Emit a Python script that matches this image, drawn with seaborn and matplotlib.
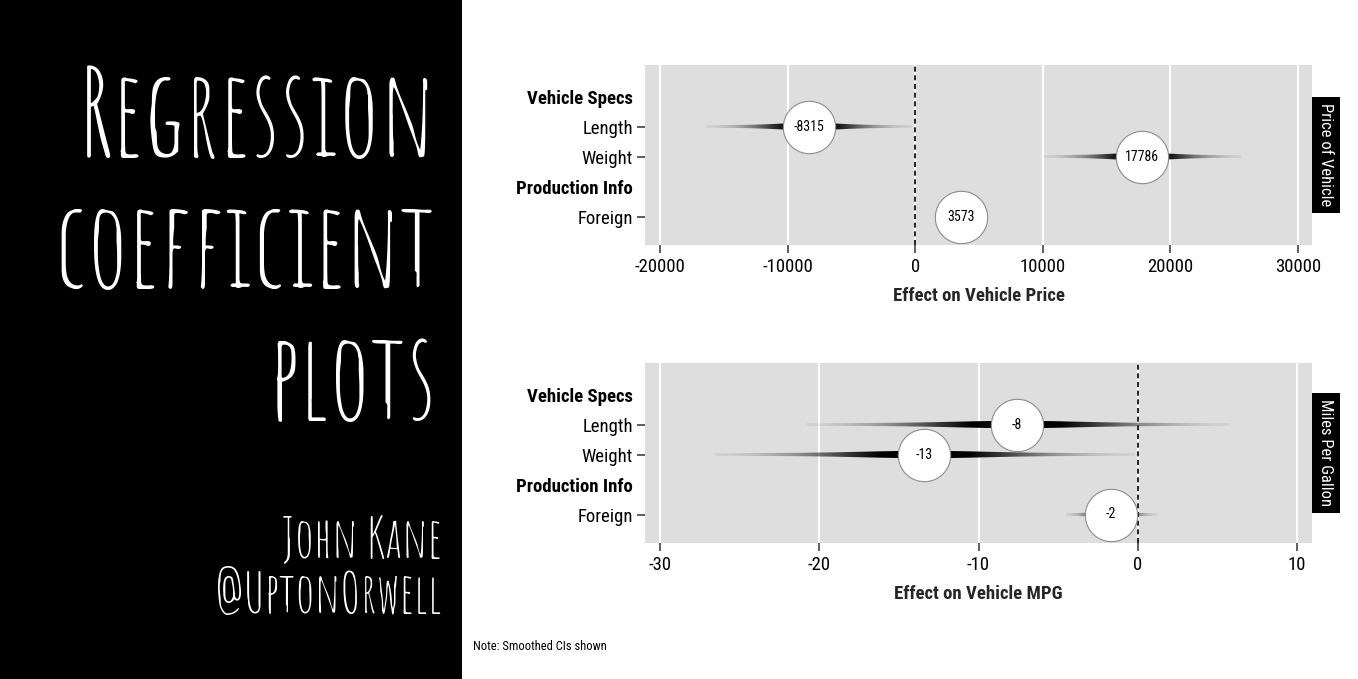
import matplotlib
matplotlib.use("Agg")
import numpy as np
import pandas as pd
import seaborn as sns
import matplotlib.pyplot as plt
from matplotlib.patches import Rectangle, Polygon
from matplotlib.path import Path
from matplotlib.transforms import ScaledTranslation

# ---------------- data ----------------
rows = ["Vehicle Specs", "Length", "Weight", "Production Info", "Foreign"]
header_rows = ["Vehicle Specs", "Production Info"]
terms = ["Length", "Weight", "Foreign"]

price_est = [-8315, 17786, 3573]
price_ci_low = [-16400, 10000, 1650]
price_ci_high = [-230, 25600, 5500]
price_xticks = [-20000, -10000, 0, 10000, 20000, 30000]
price_xticklabels = ["-20000", "-10000", "0", "10000", "20000", "30000"]

mpg_est = [-7.6, -13.4, -1.67]
mpg_ci_low = [-20.8, -26.6, -4.5]
mpg_ci_high = [5.8, -0.2, 1.25]
mpg_xticks = [-30, -20, -10, 0, 10]
mpg_xticklabels = ["-30", "-20", "-10", "0", "10"]

panel_titles = ["Price of Vehicle", "Miles Per Gallon"]
axis_titles = ["Effect on Vehicle Price", "Effect on Vehicle MPG"]
note_text = "Note: Smoothed CIs shown"
title_lines = ["Regression", "coefficient", "plots"]
author_lines = ["John Kane", "@UptonOrwell"]

# ---------------- style ----------------
sns.set_theme(style="white")
FONT = "Roboto Condensed"
TITLE_FONT = "Amatic SC"
plt.rcParams["font.family"] = [FONT, "DejaVu Sans"]
plt.rcParams["axes.unicode_minus"] = False

W, H = 1358, 679
fig = plt.figure(figsize=(W / 100, H / 100), dpi=100)
fig.patch.set_facecolor("white")


def fx(px):
    return px / W


def fy(py):
    return 1 - py / H


# left black title panel
fig.add_artist(Rectangle((0, 0), fx(462), 1, transform=fig.transFigure,
                         facecolor="black", edgecolor="none", zorder=0))
for line, base, fs in zip(title_lines, [157, 288, 420], [87, 86, 87]):
    fig.text(fx(436), fy(base), line, ha="right", va="baseline", color="white",
             fontsize=fs, family=[TITLE_FONT, "DejaVu Sans"], zorder=2)
for line, base in zip(author_lines, [557, 613]):
    fig.text(fx(442), fy(base), line, ha="right", va="baseline", color="white",
             fontsize=40, family=[TITLE_FONT, "DejaVu Sans"], zorder=2)

# circle marker
theta = np.linspace(0, 2 * np.pi, 73)
circle_marker = Path(np.column_stack([np.cos(theta), np.sin(theta)]), closed=True)

ypos = {r: i for i, r in enumerate(rows)}
PANEL = "#dedede"
YLIM = (4.95, -1.05)
PANEL_H_PX = 180.0


def draw_panel(ax, est, lo, hi, xlim, xticks, xticklabels, strip, xlabel, fmt):
    ax.set_facecolor(PANEL)
    for s in ax.spines.values():
        s.set_visible(False)
    ax.grid(axis="x", color="white", lw=1.5, zorder=0)
    ax.grid(axis="y", visible=False)
    ax.set_axisbelow(True)

    units_per_px = (YLIM[0] - YLIM[1]) / PANEL_H_PX

    # smoothed confidence bands: tapered polygon filled with an alpha gradient
    for term, m, l, h in zip(terms, est, lo, hi):
        y = ypos[term]
        se = (h - l) / 6.0
        xs = np.linspace(l, h, 400)
        d = np.exp(-0.5 * ((xs - m) / se) ** 2)
        half = (2.8 + 4.6 * d ** 1.3) / 2 * units_per_px
        verts = np.column_stack([np.r_[xs, xs[::-1]],
                                 np.r_[y - half, (y + half)[::-1]]])
        clip = Polygon(verts, closed=True, transform=ax.transData,
                       facecolor="none", edgecolor="none")
        ax.add_patch(clip)
        rgba = np.zeros((1, len(xs), 4))
        rgba[..., 3] = np.clip(1.15 * d ** 0.7, 0, 1)
        hmax = half.max()
        im = ax.imshow(rgba, extent=(l, h, y + hmax, y - hmax), aspect="auto",
                       interpolation="bilinear", zorder=2)
        im.set_clip_path(clip)

    ax.axvline(0, color="black", lw=1.2, ls=(0, (3, 2.2)), zorder=3)

    df = pd.DataFrame({"term": terms, "est": est,
                       "y": [ypos[t] for t in terms]})
    sns.scatterplot(data=df, x="est", y="y", ax=ax, marker=circle_marker, s=1420,
                    color="white", edgecolor="#8c8c8c", linewidth=0.8, zorder=4,
                    legend=False)
    for t, m in zip(terms, est):
        ax.text(m, ypos[t], fmt(m), ha="center", va="center", fontsize=10,
                color="black", zorder=5)

    ax.set_xlim(*xlim)
    ax.set_ylim(*YLIM)
    ax.set_xticks(xticks)
    ax.set_xticklabels(xticklabels)
    ax.set_yticks(range(len(rows)))
    ax.set_yticklabels(rows)
    ax.tick_params(axis="both", which="major", length=5.5, width=1.1, color="#333333",
                   labelsize=13.5, labelcolor="black", pad=3,
                   bottom=True, left=True)
    ax.tick_params(axis="x", pad=4)
    for tick, lab in zip(ax.yaxis.get_major_ticks(), rows):
        if lab in header_rows:
            tick.tick1line.set_visible(False)
            tick.label1.set_fontweight("bold")
    ax.set_xlabel(xlabel, fontsize=13.5, fontweight="bold", labelpad=8)
    ax.set_ylabel("")

    pad = 0.38
    fs = 12
    off = ScaledTranslation(pad * fs / 72, 0, fig.dpi_scale_trans)
    ax.text(1.0, 0.5, strip, transform=ax.transAxes + off, rotation=270,
            ha="left", va="center", color="white", fontsize=fs,
            bbox=dict(boxstyle=f"square,pad={pad}", facecolor="black", edgecolor="none"))


ax1 = fig.add_axes([fx(645), fy(245), fx(1312) - fx(645), (245 - 65) / H])
ax2 = fig.add_axes([fx(645), fy(543), fx(1312) - fx(645), (543 - 363) / H])

draw_panel(ax1, price_est, price_ci_low, price_ci_high, (-21175, 31100),
           price_xticks, price_xticklabels, panel_titles[0], axis_titles[0],
           lambda v: f"{v:.0f}")
draw_panel(ax2, mpg_est, mpg_ci_low, mpg_ci_high, (-30.94, 10.94),
           mpg_xticks, mpg_xticklabels, panel_titles[1], axis_titles[1],
           lambda v: f"{v:.0f}")

fig.text(fx(473), fy(647), note_text, ha="left", va="center", fontsize=9,
         color="black")

fig.savefig("out.png", dpi=100, facecolor=fig.get_facecolor())
